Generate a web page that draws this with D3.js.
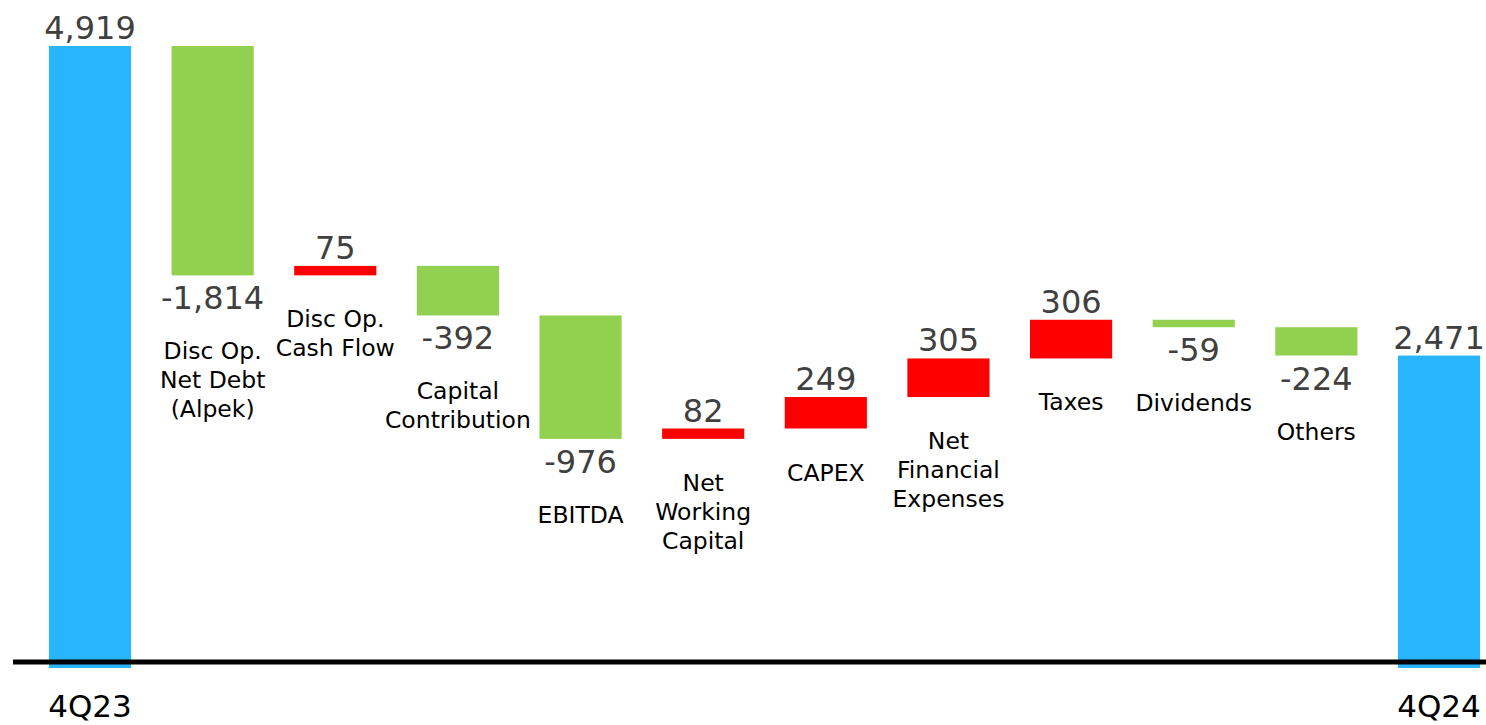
<!DOCTYPE html>
<html>
<head>
<meta charset="utf-8">
<script src="https://cdn.jsdelivr.net/npm/d3@7"></script>
<style>
  body { margin: 0; background: #fff; }
  text { font-family: "DejaVu Sans", Verdana, sans-serif; }
</style>
</head>
<body>
<svg width="1486" height="725"></svg>
<script>
// chart data
var categories = ["4Q23", "Disc Op.|Net Debt|(Alpek)", "Disc Op.|Cash Flow", "Capital|Contribution",
                  "EBITDA", "Net|Working|Capital", "CAPEX", "Net|Financial|Expenses",
                  "Taxes", "Dividends", "Others", "4Q24"];
var values = [4919, -1814, 75, -392, -976, 82, 249, 305, 306, -59, -224, 2471];
var kinds = ["total", "delta", "delta", "delta", "delta", "delta", "delta", "delta", "delta", "delta", "delta", "total"];

var colTotal = "#29b5fe",
    colDown = "#92d050",
    colUp = "#ff0000";

var svg = d3.select("svg"),
    width = +svg.attr("width"),
    height = +svg.attr("height");

// running totals for the waterfall
var running = 0;
var bars = values.map(function(v, i) {
  var d = { i: i, cat: categories[i], value: v, kind: kinds[i] };
  if (d.kind == "total") {
    d.y0 = 0; d.y1 = v; running = v;
  } else {
    d.y0 = running; d.y1 = running + v; running = d.y1;
  }
  d.lo = Math.min(d.y0, d.y1);
  d.hi = Math.max(d.y0, d.y1);
  return d;
});

var x = d3.scaleBand()
    .domain(d3.range(categories.length))
    .range([28.7, 1500.3])
    .paddingInner(0.33)
    .paddingOuter(0.165);

var y = d3.scaleLinear()
    .domain([0, 4919])
    .range([668, 46]);

var fmt = function(v) {
  return (v < 0 ? "-" : "") + d3.format(",")(Math.abs(v));
};

var g = svg.append("g");

// bars
g.selectAll(".bar")
  .data(bars)
  .enter().append("rect")
    .attr("class", "bar")
    .attr("x", function(d) { return x(d.i); })
    .attr("width", x.bandwidth())
    .attr("y", function(d) { return y(d.hi); })
    .attr("height", function(d) { return Math.max(1, y(d.lo) - y(d.hi)); })
    .attr("fill", function(d) {
      if (d.kind == "total") return colTotal;
      return d.value < 0 ? colDown : colUp;
    });

// baseline
svg.append("line")
  .attr("x1", 13).attr("x2", width)
  .attr("y1", 662).attr("y2", 662)
  .attr("stroke", "#000")
  .attr("stroke-width", 5);

// value labels
g.selectAll(".val")
  .data(bars)
  .enter().append("text")
    .attr("class", "val")
    .attr("x", function(d) { return x(d.i) + x.bandwidth() / 2; })
    .attr("y", function(d) {
      if (d.kind == "total" || d.value > 0) return y(d.hi) - 7;
      return y(d.lo) + 34;
    })
    .attr("text-anchor", "middle")
    .attr("font-size", "32px")
    .attr("fill", "#404040")
    .text(function(d) { return fmt(d.value); });

// category labels
var cat = g.selectAll(".cat")
  .data(bars)
  .enter().append("text")
    .attr("class", "cat")
    .attr("text-anchor", "middle")
    .attr("fill", "#000")
    .attr("font-size", function(d) { return d.kind == "total" ? "31px" : "23.5px"; })
    .attr("transform", function(d) {
      var cx = x(d.i) + x.bandwidth() / 2, cy;
      if (d.kind == "total") cy = 717;
      else if (d.value > 0) cy = y(d.lo) + 52;
      else cy = y(d.lo) + 84;
      return "translate(" + cx + "," + cy + ")";
    });

cat.selectAll("tspan")
  .data(function(d) { return d.cat.split("|"); })
  .enter().append("tspan")
    .attr("x", 0)
    .attr("dy", function(t, j) { return j == 0 ? 0 : 29; })
    .text(function(t) { return t; });
</script>
</body>
</html>
